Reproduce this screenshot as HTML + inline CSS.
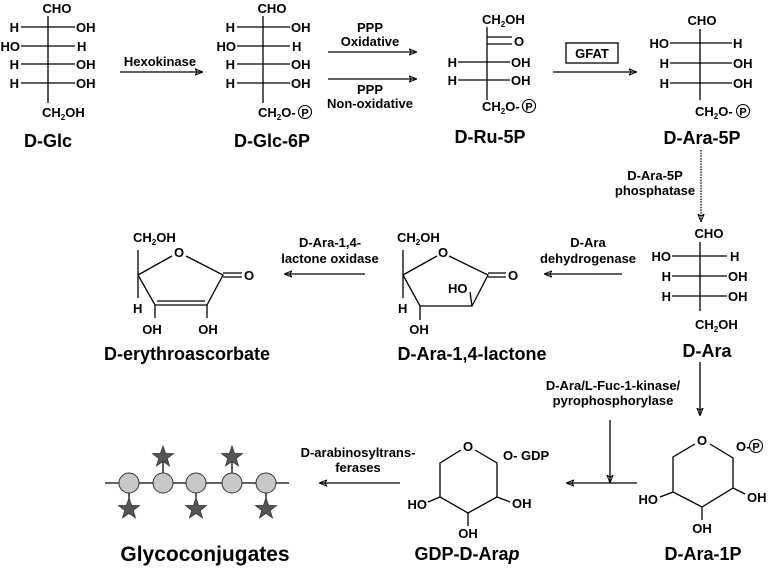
<!DOCTYPE html>
<html><head><meta charset="utf-8"><style>
html,body{margin:0;padding:0;background:#fff;}
svg{display:block;font-family:"Liberation Sans",Arial,sans-serif;font-weight:bold;}
.a{font-size:13px;}
.s{font-size:13px;}
.t{font-size:18px;}
line,polyline,path{stroke:#000;stroke-width:1.3;fill:none;}
</style></head><body>
<svg width="777" height="571" viewBox="0 0 777 571" xmlns="http://www.w3.org/2000/svg">
<defs>
<marker id="ah" viewBox="0 0 10 10" refX="9" refY="5" markerWidth="6" markerHeight="6" orient="auto-start-reverse">
<path d="M0,1 L10,5 L0,9 L3,5 Z" fill="#000" stroke="none"/></marker>
</defs>

<!-- D-Glc -->
<g class="a">
<text x="57" y="13" text-anchor="middle">CHO</text>
<line x1="48" y1="16" x2="48" y2="103"/>
<line x1="21" y1="27" x2="75" y2="27"/><text x="19" y="32" text-anchor="end">H</text><text x="76" y="32">OH</text>
<line x1="21" y1="46" x2="75" y2="46"/><text x="20" y="51" text-anchor="end">HO</text><text x="77" y="51">H</text>
<line x1="21" y1="64" x2="75" y2="64"/><text x="19" y="69" text-anchor="end">H</text><text x="76" y="69">OH</text>
<line x1="21" y1="83" x2="75" y2="83"/><text x="19" y="88" text-anchor="end">H</text><text x="76" y="88">OH</text>
<text x="42" y="117">CH<tspan font-size="8" dy="3">2</tspan><tspan dy="-3">OH</tspan></text>
</g>
<text class="t" x="48" y="147" text-anchor="middle">D-Glc</text>

<!-- Hexokinase -->
<text class="s" x="160" y="66" text-anchor="middle">Hexokinase</text>
<line x1="120" y1="72" x2="202" y2="72" marker-end="url(#ah)" stroke-width="1.8"/>

<!-- D-Glc-6P -->
<g class="a">
<text x="272" y="13" text-anchor="middle">CHO</text>
<line x1="263" y1="16" x2="263" y2="103"/>
<line x1="237" y1="27" x2="290" y2="27"/><text x="235" y="32" text-anchor="end">H</text><text x="291" y="32">OH</text>
<line x1="237" y1="46" x2="290" y2="46"/><text x="236" y="51" text-anchor="end">HO</text><text x="292" y="51">H</text>
<line x1="237" y1="64" x2="290" y2="64"/><text x="235" y="69" text-anchor="end">H</text><text x="291" y="69">OH</text>
<line x1="237" y1="83" x2="290" y2="83"/><text x="235" y="88" text-anchor="end">H</text><text x="291" y="88">OH</text>
<text x="258" y="117">CH<tspan font-size="8" dy="3">2</tspan><tspan dy="-3">O-</tspan></text>
<circle cx="305" cy="112" r="6.5" stroke="#000" stroke-width="1.1" fill="none"/><text x="305" y="116.5" text-anchor="middle" font-size="11">P</text>
</g>
<text class="t" x="272" y="147" text-anchor="middle">D-Glc-6P</text>

<!-- PPP arrows -->
<text class="s" x="370" y="32" text-anchor="middle">PPP</text>
<text class="s" x="370" y="46" text-anchor="middle">Oxidative</text>
<line x1="328" y1="52" x2="416" y2="52" marker-end="url(#ah)" stroke-width="1.8"/>
<line x1="328" y1="79" x2="416" y2="79" marker-end="url(#ah)" stroke-width="1"/>
<text class="s" x="370" y="94" text-anchor="middle">PPP</text>
<text class="s" x="370" y="108" text-anchor="middle">Non-oxidative</text>

<!-- D-Ru-5P -->
<g class="a">
<text x="482" y="24">CH<tspan font-size="8" dy="3">2</tspan><tspan dy="-3">OH</tspan></text>
<line x1="487" y1="27" x2="487" y2="100"/>
<line x1="487" y1="37" x2="512" y2="37"/><line x1="487" y1="44" x2="512" y2="44"/><text x="514" y="46">O</text>
<line x1="458" y1="62" x2="510" y2="62"/><text x="457" y="67" text-anchor="end">H</text><text x="511" y="67">OH</text>
<line x1="458" y1="80" x2="510" y2="80"/><text x="457" y="85" text-anchor="end">H</text><text x="511" y="85">OH</text>
<text x="482" y="111">CH<tspan font-size="8" dy="3">2</tspan><tspan dy="-3">O-</tspan></text>
<circle cx="529" cy="106" r="6.5" stroke="#000" stroke-width="1.1" fill="none"/><text x="529" y="110.5" text-anchor="middle" font-size="11">P</text>
</g>
<text class="t" x="490" y="143" text-anchor="middle">D-Ru-5P</text>

<!-- GFAT -->
<rect x="566" y="43" width="52" height="20" fill="none" stroke="#000" stroke-width="1.3"/>
<text class="s" x="592" y="58" text-anchor="middle">GFAT</text>
<line x1="553" y1="72" x2="636" y2="72" marker-end="url(#ah)" stroke-width="1.8"/>

<!-- D-Ara-5P -->
<g class="a">
<text x="702" y="25" text-anchor="middle">CHO</text>
<line x1="700" y1="29" x2="700" y2="100"/>
<line x1="670" y1="43" x2="732" y2="43"/><text x="669" y="48" text-anchor="end">HO</text><text x="733" y="48">H</text>
<line x1="670" y1="63" x2="732" y2="63"/><text x="669" y="68" text-anchor="end">H</text><text x="733" y="68">OH</text>
<line x1="670" y1="83" x2="732" y2="83"/><text x="669" y="88" text-anchor="end">H</text><text x="733" y="88">OH</text>
<text x="695" y="116">CH<tspan font-size="8" dy="3">2</tspan><tspan dy="-3">O-</tspan></text>
<circle cx="743" cy="111" r="6.5" stroke="#000" stroke-width="1.1" fill="none"/><text x="743" y="115.5" text-anchor="middle" font-size="11">P</text>
</g>
<text class="t" x="702" y="144" text-anchor="middle">D-Ara-5P</text>

<!-- phosphatase -->
<line x1="701" y1="150" x2="701" y2="221" stroke-dasharray="1.5,1.2" stroke-width="1.8" marker-end="url(#ah)"/>
<text class="s" x="655" y="180" text-anchor="middle">D-Ara-5P</text>
<text class="s" x="655" y="195" text-anchor="middle">phosphatase</text>

<!-- D-Ara -->
<g class="a">
<text x="709" y="238" text-anchor="middle">CHO</text>
<line x1="700" y1="242" x2="700" y2="311"/>
<line x1="672" y1="256" x2="727" y2="256"/><text x="671" y="261" text-anchor="end">HO</text><text x="730" y="261">H</text>
<line x1="672" y1="276" x2="727" y2="276"/><text x="671" y="281" text-anchor="end">H</text><text x="728" y="281">OH</text>
<line x1="672" y1="296" x2="727" y2="296"/><text x="671" y="301" text-anchor="end">H</text><text x="728" y="301">OH</text>
<text x="695" y="329">CH<tspan font-size="8" dy="3">2</tspan><tspan dy="-3">OH</tspan></text>
</g>
<text class="t" x="707" y="357" text-anchor="middle">D-Ara</text>

<!-- dehydrogenase -->
<text class="s" x="588" y="247" text-anchor="middle">D-Ara</text>
<text class="s" x="588" y="263" text-anchor="middle">dehydrogenase</text>
<line x1="622" y1="274" x2="545" y2="274" marker-end="url(#ah)" stroke-width="1.5"/>

<!-- lactone -->
<g class="a">
<text x="397" y="242">CH<tspan font-size="8" dy="3">2</tspan><tspan dy="-3">OH</tspan></text>
<line x1="403" y1="250" x2="403" y2="298"/>
<polyline points="403,275 437,256"/><polyline points="449,256 488,275 472,306 420,306 403,275"/>
<text x="443" y="257" text-anchor="middle">O</text>
<line x1="488" y1="273" x2="506" y2="273"/><line x1="488" y1="277" x2="506" y2="277"/>
<text x="508" y="280">O</text>
<text x="448" y="293">HO</text><line x1="470" y1="292" x2="472" y2="306"/>
<text x="398" y="313">H</text>
<line x1="420" y1="306" x2="420" y2="320"/><text x="419" y="334" text-anchor="middle">OH</text>
</g>
<text class="t" x="472" y="360" text-anchor="middle">D-Ara-1,4-lactone</text>

<!-- oxidase -->
<text class="s" x="330" y="247" text-anchor="middle">D-Ara-1,4-</text>
<text class="s" x="330" y="263" text-anchor="middle">lactone oxidase</text>
<line x1="365" y1="274" x2="285" y2="274" marker-end="url(#ah)" stroke-width="1.5"/>

<!-- erythroascorbate -->
<g class="a">
<text x="133" y="242">CH<tspan font-size="8" dy="3">2</tspan><tspan dy="-3">OH</tspan></text>
<line x1="138" y1="250" x2="138" y2="298"/>
<polyline points="138,275 172,256"/><polyline points="186,256 223,275 207,305 155,305 138,275"/>
<line x1="157" y1="301" x2="205" y2="301"/>
<text x="179" y="257" text-anchor="middle">O</text>
<line x1="223" y1="273" x2="242" y2="273"/><line x1="223" y1="277" x2="242" y2="277"/>
<text x="244" y="280">O</text>
<text x="133" y="313">H</text>
<line x1="155" y1="305" x2="155" y2="318"/><text x="152" y="334" text-anchor="middle">OH</text>
<line x1="207" y1="305" x2="207" y2="318"/><text x="208" y="334" text-anchor="middle">OH</text>
</g>
<text class="t" x="187" y="360" text-anchor="middle">D-erythroascorbate</text>

<!-- kinase path -->
<line x1="700" y1="362" x2="700" y2="415" marker-end="url(#ah)" stroke-width="1.3"/>
<text class="s" x="613" y="390" text-anchor="middle">D-Ara/L-Fuc-1-kinase/</text>
<text class="s" x="613" y="405" text-anchor="middle">pyrophosphorylase</text>
<line x1="610" y1="420" x2="610" y2="482" marker-end="url(#ah)" stroke-width="1.3"/>
<line x1="637" y1="483" x2="567" y2="483" marker-end="url(#ah)" stroke-width="1.3"/>

<!-- D-Ara-1P -->
<g class="a">
<polyline points="695,444 673,457 673,492 702,507 733,488 733,458 710,444"/>
<text x="702" y="445" text-anchor="middle">O</text>
<text x="736" y="451">O-</text>
<circle cx="756" cy="446" r="6.5" stroke="#000" stroke-width="1.1" fill="none"/><text x="756" y="450.5" text-anchor="middle" font-size="11">P</text>
<line x1="673" y1="492" x2="660" y2="497"/><text x="658" y="504" text-anchor="end">HO</text>
<line x1="733" y1="488" x2="745" y2="494"/><text x="747" y="502">OH</text>
<line x1="702" y1="507" x2="702" y2="520"/><text x="702" y="533" text-anchor="middle">OH</text>
</g>
<text class="t" x="703" y="560" text-anchor="middle">D-Ara-1P</text>

<!-- GDP-D-Arap -->
<g class="a">
<polyline points="461,450 440,463 440,497 468,513 497,497 497,463 475,450"/>
<text x="468" y="451" text-anchor="middle">O</text>
<text x="503" y="460">O- GDP</text>
<line x1="440" y1="497" x2="428" y2="502"/><text x="427" y="509" text-anchor="end">HO</text>
<line x1="497" y1="497" x2="510" y2="502"/><text x="512" y="508">OH</text>
<line x1="468" y1="513" x2="468" y2="526"/><text x="468" y="538" text-anchor="middle">OH</text>
</g>
<text class="t" x="467" y="560" text-anchor="middle">GDP-D-Ara<tspan font-style="italic">p</tspan></text>

<!-- transferases -->
<text class="s" x="358" y="457" text-anchor="middle">D-arabinosyltrans-</text>
<text class="s" x="358" y="472" text-anchor="middle">ferases</text>
<line x1="400" y1="483" x2="320" y2="483" marker-end="url(#ah)" stroke-width="1.3"/>

<!-- glycoconjugate -->
<line x1="105" y1="483" x2="289" y2="483" stroke="#555" stroke-width="1.5"/>
<g stroke="#333" stroke-width="1">
<line x1="163" y1="462" x2="163" y2="474"/><line x1="232" y1="462" x2="232" y2="474"/>
<line x1="129" y1="492" x2="129" y2="504"/><line x1="196" y1="492" x2="196" y2="504"/><line x1="266" y1="492" x2="266" y2="504"/>
</g>
<g fill="#c8c8c8" stroke="#333" stroke-width="1">
<circle cx="129" cy="483" r="10"/><circle cx="163" cy="483" r="10"/><circle cx="196" cy="483" r="10"/><circle cx="232" cy="483" r="10"/><circle cx="266" cy="483" r="10"/>
</g>
<g fill="#555" stroke="#333" stroke-width="0.8">
<polygon transform="translate(163,457)" points="0,-11 2.6,-3.6 10.5,-3.4 4.2,1.4 6.5,8.9 0,4.4 -6.5,8.9 -4.2,1.4 -10.5,-3.4 -2.6,-3.6"/>
<polygon transform="translate(232,457)" points="0,-11 2.6,-3.6 10.5,-3.4 4.2,1.4 6.5,8.9 0,4.4 -6.5,8.9 -4.2,1.4 -10.5,-3.4 -2.6,-3.6"/>
<polygon transform="translate(129,509)" points="0,-11 2.6,-3.6 10.5,-3.4 4.2,1.4 6.5,8.9 0,4.4 -6.5,8.9 -4.2,1.4 -10.5,-3.4 -2.6,-3.6"/>
<polygon transform="translate(196,509)" points="0,-11 2.6,-3.6 10.5,-3.4 4.2,1.4 6.5,8.9 0,4.4 -6.5,8.9 -4.2,1.4 -10.5,-3.4 -2.6,-3.6"/>
<polygon transform="translate(266,509)" points="0,-11 2.6,-3.6 10.5,-3.4 4.2,1.4 6.5,8.9 0,4.4 -6.5,8.9 -4.2,1.4 -10.5,-3.4 -2.6,-3.6"/>
</g>
<text x="205" y="561" text-anchor="middle" font-size="21">Glycoconjugates</text>
</svg>
</body></html>
